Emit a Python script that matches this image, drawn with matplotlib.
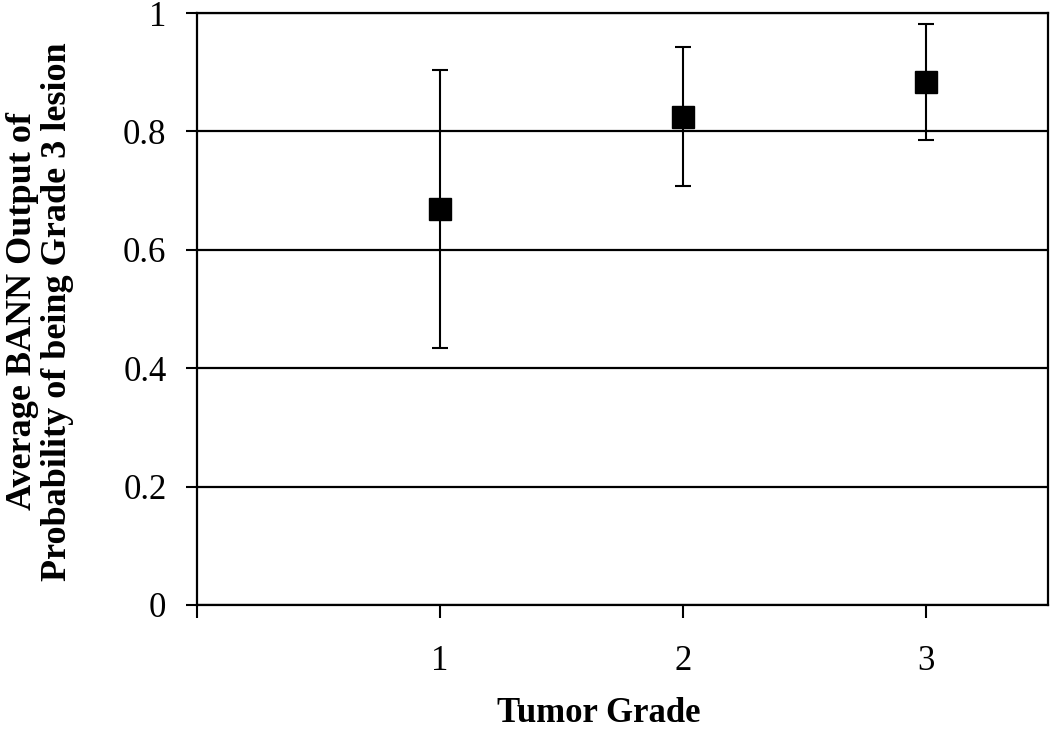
"""Average BANN output vs tumor grade, with error bars"""
import numpy as np
import matplotlib.pyplot as plt

plt.rcParams['font.family'] = ['Liberation Serif', 'DejaVu Serif']

grades = [1, 2, 3]
grade_labels = ["1", "2", "3"]
mean_output = [0.669, 0.825, 0.883]
err_output = [0.235, 0.118, 0.098]

fig = plt.figure(figsize=(10.5, 7.36), dpi=100)
ax = fig.add_axes([0.1876, 0.178, 0.8104, 0.8043])

ax.errorbar(grades, mean_output, yerr=err_output, fmt='s', color='black',
            markersize=16, ecolor='black', elinewidth=1.5, capsize=6,
            capthick=1.5, zorder=3)

ax.set_xlim(0, 3.5)
ax.set_ylim(0, 1)
ax.set_yticks(np.arange(0, 1.01, 0.2))
ax.set_yticklabels(["0", "0.2", "0.4", "0.6", "0.8", "1"])
ax.set_xticks([0] + grades)
ax.set_xticklabels([""] + grade_labels)
ax.yaxis.grid(True, color='black', linewidth=1.6)
ax.set_axisbelow(True)

for s in ax.spines.values():
    s.set_linewidth(1.6)

ax.tick_params(axis='y', direction='out', length=8, width=1.5,
               labelsize=25, pad=14)
ax.tick_params(axis='x', direction='out', length=9, width=1.5,
               labelsize=25, pad=20)

fig.text(0.57, 0.008, "Tumor Grade", ha='center', va='bottom',
         fontsize=25, fontweight='bold')
fig.text(0.038, 0.577, "Average BANN Output of\nProbability of being Grade 3 lesion",
         rotation=90, ha='center', va='center', fontsize=26,
         fontweight='bold', linespacing=1.05)

plt.savefig("out.png", dpi=100)
